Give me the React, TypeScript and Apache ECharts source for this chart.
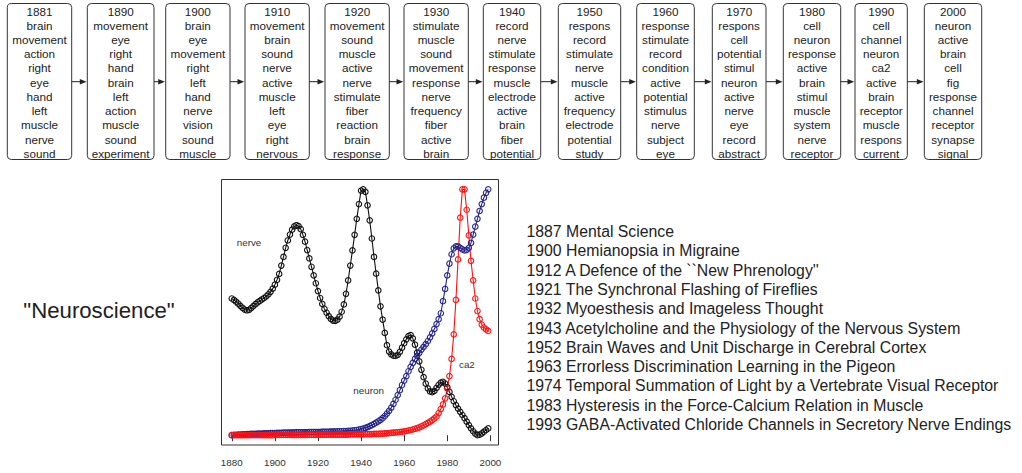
import React, { useEffect, useRef } from "react";
import * as echarts from "echarts";

// ---------- data ----------
const FIRST_YEAR = 1880;

const nerve = [
  55.6, 55.0, 54.3, 53.5, 52.6, 51.8, 51.1, 50.8, 51.0, 51.7,
  52.5, 53.3, 54.0, 54.6, 55.2, 55.8, 56.5, 57.3, 58.3, 59.6,
  61.2, 63.2, 65.6, 69.0, 72.5, 76.2, 79.2, 81.6, 83.6, 84.9,
  85.4, 85.0, 83.8, 81.5, 78.7, 75.3, 71.9, 68.5, 65.0, 61.8,
  58.6, 55.8, 53.4, 51.4, 49.8, 48.4, 47.3, 46.6, 46.5, 47.0,
  48.2, 50.2, 53.2, 57.5, 63.0, 69.0, 75.2, 81.5, 88.0, 94.0,
  99.5, 100.0, 99.0, 93.5, 87.4, 80.0, 72.5, 65.7, 58.9, 52.4,
  47.0, 41.6, 36.6, 34.0, 32.9, 32.3, 32.2, 32.7, 33.9, 35.6,
  37.4, 39.0, 40.3, 40.7, 39.4, 36.8, 33.6, 30.0, 26.6, 23.6,
  21.0, 19.0, 17.8, 17.5, 18.0, 19.2, 20.5, 21.4, 21.7, 21.0,
  19.5, 17.6, 15.6, 13.8, 12.2, 10.8, 9.5, 8.2, 6.9, 5.5,
  4.1, 2.8, 1.6, 0.6, 0.0, 0.2, 0.7, 1.4, 2.1, 2.8,
];

const neuron = [
  0.0, 0.1, 0.1, 0.2, 0.2, 0.3, 0.3, 0.4, 0.4, 0.5,
  0.5, 0.5, 0.6, 0.6, 0.6, 0.7, 0.7, 0.7, 0.8, 0.8,
  0.8, 0.9, 0.9, 0.9, 1.0, 1.0, 1.0, 1.1, 1.1, 1.1,
  1.2, 1.2, 1.2, 1.2, 1.2, 1.2, 1.3, 1.3, 1.3, 1.3,
  1.3, 1.3, 1.4, 1.4, 1.4, 1.4, 1.5, 1.5, 1.5, 1.6,
  1.6, 1.6, 1.7, 1.7, 1.8, 1.8, 1.9, 2.0, 2.1, 2.3,
  2.5, 2.7, 3.0, 3.3, 3.7, 4.1, 4.6, 5.1, 5.6, 6.2,
  6.9, 7.8, 8.8, 9.9, 11.2, 12.7, 14.4, 16.3, 18.3, 20.4,
  22.2, 24.0, 26.0, 27.8, 29.4, 31.0, 32.3, 33.5, 34.8, 35.9,
  37.0, 38.3, 39.8, 41.4, 43.2, 45.2, 47.2, 49.6, 54.5, 59.5,
  65.0, 69.8, 73.6, 76.0, 76.8, 76.8, 76.2, 75.6, 75.2, 75.4,
  76.2, 78.2, 81.6, 84.8, 88.0, 91.2, 94.0, 96.6, 98.6, 100.0,
];

const ca2 = [
  0.0, 0.0, 0.0, 0.0, 0.0, 0.0, 0.0, 0.0, 0.0, 0.0,
  0.0, 0.0, 0.0, 0.0, 0.0, 0.0, 0.0, 0.0, 0.0, 0.0,
  0.1, 0.1, 0.1, 0.1, 0.1, 0.1, 0.1, 0.1, 0.1, 0.1,
  0.1, 0.1, 0.1, 0.1, 0.1, 0.1, 0.1, 0.1, 0.1, 0.1,
  0.2, 0.2, 0.2, 0.2, 0.2, 0.2, 0.2, 0.2, 0.2, 0.2,
  0.2, 0.2, 0.2, 0.2, 0.2, 0.3, 0.3, 0.3, 0.3, 0.3,
  0.3, 0.3, 0.4, 0.4, 0.4, 0.4, 0.5, 0.5, 0.5, 0.6,
  0.6, 0.7, 0.7, 0.8, 0.9, 1.0, 1.1, 1.2, 1.3, 1.4,
  1.5, 1.7, 1.9, 2.1, 2.3, 2.6, 2.9, 3.2, 3.6, 4.0,
  4.5, 5.0, 5.5, 6.1, 6.8, 7.6, 9.0, 10.6, 12.5, 15.0,
  19.0, 24.0, 31.0, 41.0, 55.0, 71.5, 88.5, 100.0, 100.0, 91.7,
  81.3, 70.9, 63.0, 55.6, 50.5, 47.2, 45.0, 43.8, 43.0, 42.4,
];

const xTicks = [1880, 1900, 1920, 1940, 1960, 1980, 2000];

const decades = ["1881", "1890", "1900", "1910", "1920", "1930", "1940", "1950", "1960", "1970", "1980", "1990", "2000"];

const topWords = [
  ["brain", "movement", "action", "right", "eye", "hand", "left", "muscle", "nerve", "sound"],
  ["movement", "eye", "right", "hand", "brain", "left", "action", "muscle", "sound", "experiment"],
  ["brain", "eye", "movement", "right", "left", "hand", "nerve", "vision", "sound", "muscle"],
  ["movement", "brain", "sound", "nerve", "active", "muscle", "left", "eye", "right", "nervous"],
  ["movement", "sound", "muscle", "active", "nerve", "stimulate", "fiber", "reaction", "brain", "response"],
  ["stimulate", "muscle", "sound", "movement", "response", "nerve", "frequency", "fiber", "active", "brain"],
  ["record", "nerve", "stimulate", "response", "muscle", "electrode", "active", "brain", "fiber", "potential"],
  ["respons", "record", "stimulate", "nerve", "muscle", "active", "frequency", "electrode", "potential", "study"],
  ["response", "stimulate", "record", "condition", "active", "potential", "stimulus", "nerve", "subject", "eye"],
  ["respons", "cell", "potential", "stimul", "neuron", "active", "nerve", "eye", "record", "abstract"],
  ["cell", "neuron", "response", "active", "brain", "stimul", "muscle", "system", "nerve", "receptor"],
  ["cell", "channel", "neuron", "ca2", "active", "brain", "receptor", "muscle", "respons", "current"],
  ["neuron", "active", "brain", "cell", "fig", "response", "channel", "receptor", "synapse", "signal"],
];

const articleTitles = [
  "1887 Mental Science",
  "1900 Hemianopsia in Migraine",
  "1912 A Defence of the ``New Phrenology''",
  "1921 The Synchronal Flashing of Fireflies",
  "1932 Myoesthesis and Imageless Thought",
  "1943 Acetylcholine and the Physiology of the Nervous System",
  "1952 Brain Waves and Unit Discharge in Cerebral Cortex",
  "1963 Errorless Discrimination Learning in the Pigeon",
  "1974 Temporal Summation of Light by a Vertebrate Visual Receptor",
  "1983 Hysteresis in the Force-Calcium Relation in Muscle",
  "1993 GABA-Activated Chloride Channels in Secretory Nerve Endings",
];

const topicName = '"Neuroscience"';

// ---------- layout / styles ----------
const FONT = "'Liberation Sans', Arial, Helvetica, sans-serif";
const boxLayout: [number, number][] = [
  [7.3, 71.7], [87.3, 154], [165.7, 230], [245, 309.3], [325, 389.3],
  [404, 468.3], [483.3, 540.7], [558.3, 620.7], [636.7, 694.3],
  [712.3, 766], [783.3, 840.7], [855, 907.3], [924.3, 981.7],
];
const labelAnchors = {
  nerve: [1888, 78.3],
  neuron: [1943.5, 18.1],
  ca2: [1989.1, 28.9],
};

const COLORS = { nerve: "#111111", neuron: "#24248f", ca2: "#ff1111" };

function buildGraphics() {
  const g: any[] = [];
  const boxTop = 3.5;
  const boxH = 156;
  const lineY0 = 11;
  const lineGap = 14.23;
  boxLayout.forEach(([l, r], i) => {
    g.push({
      type: "rect",
      shape: { x: l, y: boxTop, width: r - l, height: boxH, r: 4 },
      style: { fill: "#fff", stroke: "#333", lineWidth: 1 },
      silent: true,
    });
    const lines = [decades[i], ...topWords[i]];
    lines.forEach((t, j) => {
      g.push({
        type: "text",
        x: (l + r) / 2,
        y: lineY0 + lineGap * j,
        style: {
          text: t,
          fill: "#222",
          fontSize: 11.7,
          fontFamily: FONT,
          textAlign: "center",
          align: "center",
          textVerticalAlign: "middle",
          verticalAlign: "middle",
        },
        silent: true,
      });
    });
    if (i < boxLayout.length - 1) {
      const nextL = boxLayout[i + 1][0];
      const ay = 81.7;
      g.push({
        type: "line",
        shape: { x1: r, y1: ay, x2: nextL - 5, y2: ay },
        style: { stroke: "#222", lineWidth: 1 },
        silent: true,
      });
      g.push({
        type: "polygon",
        shape: { points: [[nextL - 0.8, ay], [nextL - 7.5, ay - 2.8], [nextL - 7.5, ay + 2.8]] },
        style: { fill: "#222" },
        silent: true,
      });
    }
  });
  articleTitles.forEach((t, i) => {
    g.push({
      type: "text",
      x: 526.5,
      y: 231.7 + 19.26 * i,
      style: {
        text: t,
        fill: "#222",
        fontSize: 15.8,
        fontFamily: FONT,
        textAlign: "left",
        align: "left",
        textVerticalAlign: "middle",
        verticalAlign: "middle",
      },
      silent: true,
    });
  });
  g.push({
    type: "text",
    x: 99,
    y: 310,
    style: {
      text: topicName,
      fill: "#222",
      fontSize: 22.2,
      fontFamily: FONT,
      textAlign: "center",
      align: "center",
      textVerticalAlign: "middle",
      verticalAlign: "middle",
    },
    silent: true,
  });
  return g;
}

function makeSeries(name: string, vals: number[], color: string, anchor: number[]) {
  return {
    name,
    type: "line",
    data: vals.map((v, i) => [FIRST_YEAR + i, v]),
    symbol: "circle",
    symbolSize: 5.5,
    showSymbol: true,
    showAllSymbol: true,
    lineStyle: { color, width: 1.1 },
    itemStyle: { color: "rgba(0,0,0,0)", borderColor: color, borderWidth: 1.1 },
    emphasis: { disabled: true },
    silent: true,
    markPoint: {
      symbol: "rect",
      symbolSize: [1, 1],
      silent: true,
      itemStyle: { color: "rgba(0,0,0,0)" },
      label: {
        show: true,
        position: "inside",
        formatter: name,
        color: "#333",
        fontSize: 9.8,
        fontFamily: FONT,
      },
      data: [{ coord: anchor }],
    },
  };
}

export default function App() {
  const ref = useRef<HTMLDivElement>(null);
  useEffect(() => {
    if (!ref.current) return;
    const chart = echarts.init(ref.current, undefined, { renderer: "svg" });
    chart.setOption({
      animation: false,
      backgroundColor: "#fff",
      textStyle: { fontFamily: FONT },
      grid: {
        left: 221.5,
        top: 179.5,
        width: 277,
        height: 265.5,
        show: true,
        borderColor: "#333",
        borderWidth: 1,
        backgroundColor: "transparent",
      },
      xAxis: {
        type: "value",
        min: 1875.24,
        max: 2003.76,
        axisLine: { show: false },
        splitLine: { show: false },
        axisTick: { show: true, customValues: xTicks, length: 6, lineStyle: { color: "#333", width: 1 } },
        axisLabel: {
          customValues: xTicks,
          formatter: (v: number) => String(v),
          fontSize: 9.8,
          color: "#333",
          margin: 12,
          fontFamily: FONT,
        },
      },
      yAxis: { type: "value", min: -4, max: 104, show: false, splitLine: { show: false } },
      series: [
        makeSeries("nerve", nerve, COLORS.nerve, labelAnchors.nerve),
        makeSeries("neuron", neuron, COLORS.neuron, labelAnchors.neuron),
        makeSeries("ca2", ca2, COLORS.ca2, labelAnchors.ca2),
      ],
      graphic: buildGraphics(),
    });
    return () => chart.dispose();
  }, []);
  return (
    <div
      ref={ref}
      style={{ position: "fixed", left: 0, top: 0, width: 1022, height: 473 }}
    />
  );
}
